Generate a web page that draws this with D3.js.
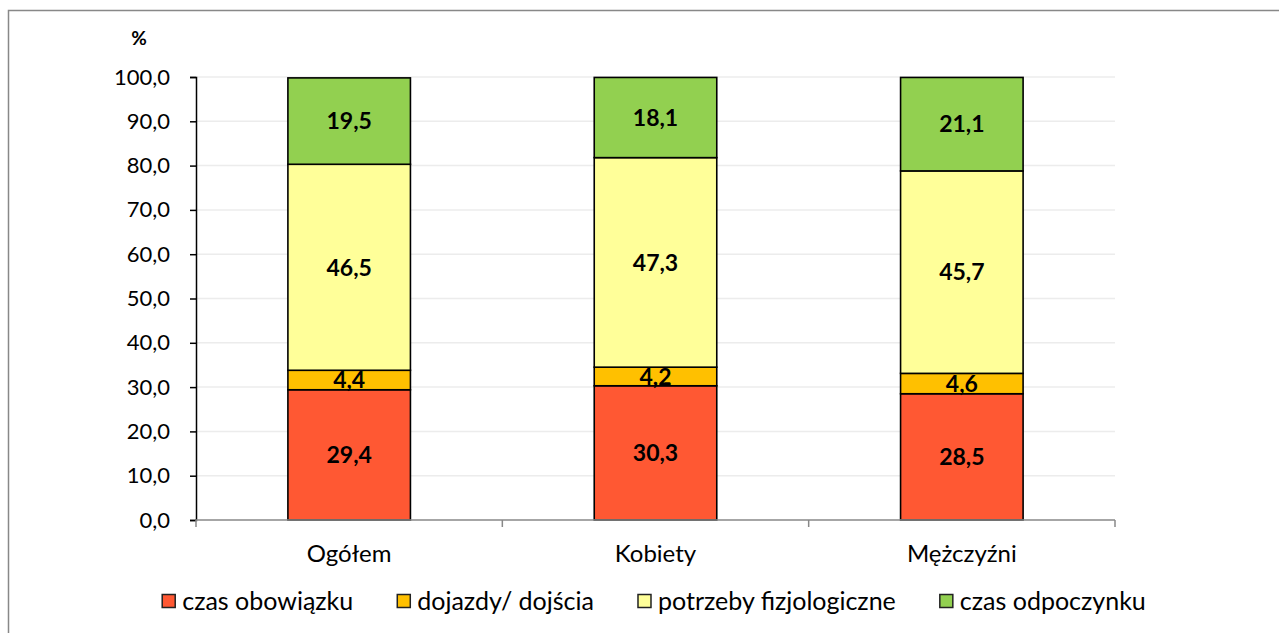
<!DOCTYPE html>
<html>
<head>
<meta charset="utf-8">
<script src="https://cdn.jsdelivr.net/npm/d3@7"></script>
<style>
  body { margin: 0; background: white; }
  svg { display: block; font-family: Lato, "Open Sans", sans-serif; }
</style>
</head>
<body>
<svg id="chart" width="1279" height="633"></svg>
<script>
// categories and series
const categories = ["Ogółem", "Kobiety", "Mężczyźni"];
const seriesNames = ["czas obowiązku", "dojazdy/ dojścia", "potrzeby fizjologiczne", "czas odpoczynku"];
const obowiazki = [29.4, 30.3, 28.5];
const dojazdy = [4.4, 4.2, 4.6];
const fizjologiczne = [46.5, 47.3, 45.7];
const odpoczynek = [19.5, 18.1, 21.1];
const yTicks = [0, 10, 20, 30, 40, 50, 60, 70, 80, 90, 100];

const colors = ["#FF5833", "#FFC000", "#FFFF99", "#92D050"];
const seriesValues = [obowiazki, dojazdy, fizjologiczne, odpoczynek];

const svg = d3.select("#chart");

// outer chart frame (only top and left edges are visible)
svg.append("path")
    .attr("d", "M8.5,633 V10.5 H1279")
    .attr("fill", "none")
    .attr("stroke", "#888")
    .attr("stroke-width", 1.5);

const plot = { left: 196, right: 1115, top: 77, bottom: 520 };

const x = d3.scaleBand()
    .domain(categories)
    .range([plot.left, plot.right])
    .padding(0);
const barWidth = x.bandwidth() * 0.4;

const y = d3.scaleLinear()
    .domain([0, 100])
    .range([plot.bottom, plot.top]);

// gridlines
svg.append("g")
    .selectAll("line")
    .data(yTicks.filter(d => d > 0))
    .join("line")
    .attr("x1", plot.left)
    .attr("x2", plot.right)
    .attr("y1", d => y(d))
    .attr("y2", d => y(d))
    .attr("stroke", "#ececec")
    .attr("stroke-width", 1.5);

// stack the series
const rows = categories.map((c, i) => {
    let row = { cat: c };
    seriesNames.forEach((s, j) => row[s] = seriesValues[j][i]);
    return row;
});
const stacked = d3.stack().keys(seriesNames)(rows);

const layers = svg.append("g")
    .selectAll("g")
    .data(stacked)
    .join("g")
    .attr("fill", (d, i) => colors[i]);

layers.selectAll("rect")
    .data(d => d)
    .join("rect")
    .attr("x", d => x(d.data.cat) + (x.bandwidth() - barWidth) / 2)
    .attr("width", barWidth)
    .attr("y", d => y(d[1]))
    .attr("height", d => y(d[0]) - y(d[1]))
    .attr("stroke", "black")
    .attr("stroke-width", 1.6);

// value labels in the middle of each segment
layers.selectAll("text")
    .data(d => d)
    .join("text")
    .attr("x", d => x(d.data.cat) + x.bandwidth() / 2)
    .attr("y", d => y((d[0] + d[1]) / 2))
    .attr("dy", "0.36em")
    .attr("text-anchor", "middle")
    .attr("fill", "black")
    .style("font-size", "23px")
    .style("font-weight", "bold")
    .text(d => d3.format(".1f")(d[1] - d[0]).replace(".", ","));

// y axis
const yAxis = svg.append("g")
    .attr("transform", `translate(${plot.left},0)`)
    .call(d3.axisLeft(y)
        .tickValues(yTicks)
        .tickSize(6)
        .tickPadding(20)
        .tickFormat(d => d3.format(".1f")(d).replace(".", ",")));
yAxis.select(".domain").attr("stroke", "black").attr("stroke-width", 1.5);
yAxis.selectAll(".tick line").attr("stroke", "black").attr("stroke-width", 1.5);
yAxis.selectAll(".tick text")
    .style("font-size", "22px")
    .style("font-family", "Lato, 'Open Sans', sans-serif")
    .attr("fill", "black");

// x axis: gray line with ticks at category boundaries
const xg = svg.append("g");
xg.append("line")
    .attr("x1", plot.left).attr("x2", plot.right)
    .attr("y1", plot.bottom).attr("y2", plot.bottom)
    .attr("stroke", "#888").attr("stroke-width", 1.5);
const bounds = categories.map(c => x(c)).concat([x(categories[categories.length - 1]) + x.bandwidth()]);
xg.selectAll("line.tk")
    .data(bounds)
    .join("line")
    .attr("class", "tk")
    .attr("x1", d => d).attr("x2", d => d)
    .attr("y1", plot.bottom).attr("y2", plot.bottom + 7)
    .attr("stroke", "#888").attr("stroke-width", 1.5);
xg.selectAll("text")
    .data(categories)
    .join("text")
    .attr("x", d => x(d) + x.bandwidth() / 2)
    .attr("y", 553)
    .attr("dy", "0.36em")
    .attr("text-anchor", "middle")
    .style("font-size", "24px")
    .text(d => d);

// unit label
svg.append("text")
    .attr("x", 139)
    .attr("y", 38)
    .attr("dy", "0.36em")
    .attr("text-anchor", "middle")
    .style("font-size", "19px")
    .style("font-weight", "bold")
    .text("%");

// legend, laid out in a row centred under the plot
const legend = svg.append("g");
const items = legend.selectAll("g")
    .data(seriesNames)
    .join("g");
items.append("rect")
    .attr("width", 13).attr("height", 13)
    .attr("y", -6.5)
    .attr("fill", (d, i) => colors[i])
    .attr("stroke", "#222")
    .attr("stroke-width", 1.5);
items.append("text")
    .attr("x", 20)
    .attr("dy", "0.36em")
    .style("font-size", "25px")
    .text(d => d);

const gap = 44;
let widths = [];
items.each(function () {
    widths.push(20 + d3.select(this).select("text").node().getComputedTextLength());
});
const total = d3.sum(widths) + gap * (widths.length - 1);
let pos = 654 - total / 2;
items.each(function (d, i) {
    d3.select(this).attr("transform", `translate(${pos},601)`);
    pos += widths[i] + gap;
});
</script>
</body>
</html>
